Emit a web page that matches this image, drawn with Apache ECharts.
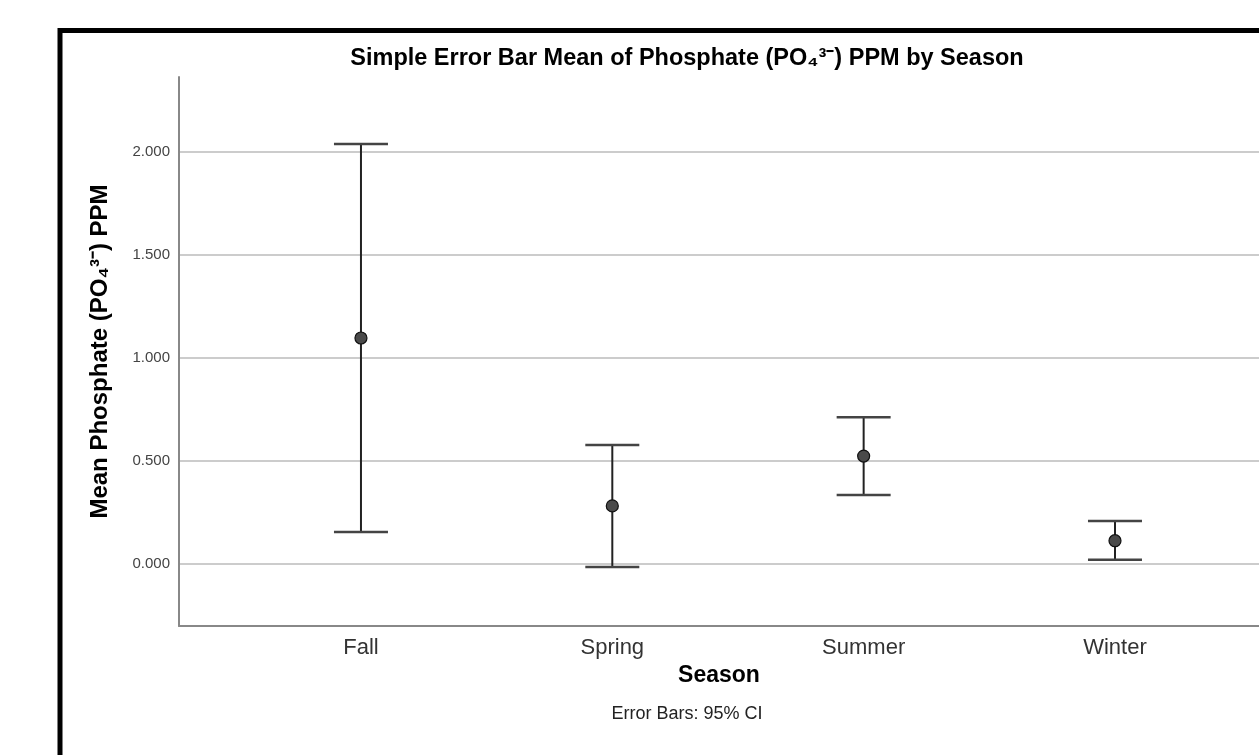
<!DOCTYPE html>
<html>
<head>
<meta charset="utf-8">
<script src="https://cdn.jsdelivr.net/npm/echarts@6/dist/echarts.min.js"></script>
<style>
html,body{margin:0;padding:0;background:#fff;}
#chart{width:1259px;height:755px;}
</style>
</head>
<body>
<div id="chart"></div>
<script>
const categories = ['Fall', 'Spring', 'Summer', 'Winter'];
const means = [1.097, 0.282, 0.524, 0.113];
const ciLower = [0.155, -0.015, 0.335, 0.020];
const ciUpper = [2.039, 0.578, 0.712, 0.209];
const yTicks = [0, 0.5, 1.0, 1.5, 2.0];
const catPositions = categories.map((c, i) => i);

const titleText = 'Simple Error Bar Mean of Phosphate (PO\u2084\u00B3\u207B) PPM by Season';
const yName = 'Mean Phosphate (PO\u2084\u00B3\u207B) PPM';
const xName = 'Season';
const footnote = 'Error Bars: 95% CI';

const font = 'Arial, "Liberation Sans", sans-serif';

const chart = echarts.init(document.getElementById('chart'), null, {renderer: 'canvas'});

const errData = categories.map((c, i) => [i, ciLower[i], ciUpper[i]]);
const meanData = categories.map((c, i) => [i, means[i]]);

const option = {
  backgroundColor: '#ffffff',
  animation: false,
  grid: {left: 179, right: 0, top: 77, bottom: 129, containLabel: false, outerBoundsMode: 'none'},
  xAxis: {
    type: 'value',
    min: -0.724,
    max: 3.573,
    name: xName,
    nameLocation: 'middle',
    nameGap: 30,
    nameTextStyle: {fontFamily: font, fontWeight: 'bold', fontSize: 23, color: '#000'},
    axisLine: {show: true, onZero: false, lineStyle: {color: '#888', width: 2}},
    axisTick: {show: false, customValues: catPositions},
    splitLine: {show: false},
    axisLabel: {
      customValues: catPositions,
      formatter: v => categories[Math.round(v)] || '',
      fontFamily: font, fontSize: 22, color: '#333', margin: 11
    }
  },
  yAxis: {
    type: 'value',
    min: -0.301,
    max: 2.364,
    name: yName,
    nameLocation: 'middle',
    nameGap: 67,
    nameTextStyle: {fontFamily: font, fontWeight: 'bold', fontSize: 24, color: '#000'},
    axisLine: {show: true, onZero: false, lineStyle: {color: '#888', width: 2}},
    axisTick: {show: false, customValues: yTicks},
    splitLine: {show: true, lineStyle: {color: '#cccccc', width: 2}},
    axisLabel: {
      customValues: yTicks,
      formatter: v => v.toFixed(3),
      fontFamily: font, fontSize: 15, color: '#444', margin: 9
    }
  },
  graphic: [
    {type: 'rect', z: 100, silent: true,
     shape: {x: 60, y: 30.5, width: 1400, height: 1000},
     style: {fill: 'none', stroke: '#000', lineWidth: 5}},
    {type: 'text', x: 687, y: 59, z: 100,
     style: {text: titleText, textAlign: 'center', textVerticalAlign: 'middle',
             font: 'bold 23.5px ' + font, fill: '#000'}},
    {type: 'text', x: 687, y: 714, z: 100,
     style: {text: footnote, textAlign: 'center', textVerticalAlign: 'middle',
             font: '18px ' + font, fill: '#222'}}
  ],
  series: [
    {
      type: 'custom',
      data: errData,
      encode: {x: 0, y: [1, 2]},
      z: 3,
      renderItem: function (params, api) {
        const x = api.value(0);
        const pLo = api.coord([x, api.value(1)]);
        const pHi = api.coord([x, api.value(2)]);
        const hw = 27;
        return {
          type: 'group',
          children: [
            {type: 'line', shape: {x1: pHi[0], y1: pHi[1], x2: pLo[0], y2: pLo[1]},
             style: {stroke: '#222', lineWidth: 2}},
            {type: 'line', shape: {x1: pHi[0] - hw, y1: pHi[1], x2: pHi[0] + hw, y2: pHi[1]},
             style: {stroke: '#444', lineWidth: 2.5}},
            {type: 'line', shape: {x1: pLo[0] - hw, y1: pLo[1], x2: pLo[0] + hw, y2: pLo[1]},
             style: {stroke: '#444', lineWidth: 2.5}}
          ]
        };
      }
    },
    {
      type: 'scatter',
      data: meanData,
      symbol: 'circle',
      symbolSize: 12,
      z: 4,
      itemStyle: {color: '#4a4a4a', borderColor: '#111', borderWidth: 1.2, opacity: 1}
    }
  ]
};
chart.setOption(option);
</script>
</body>
</html>
